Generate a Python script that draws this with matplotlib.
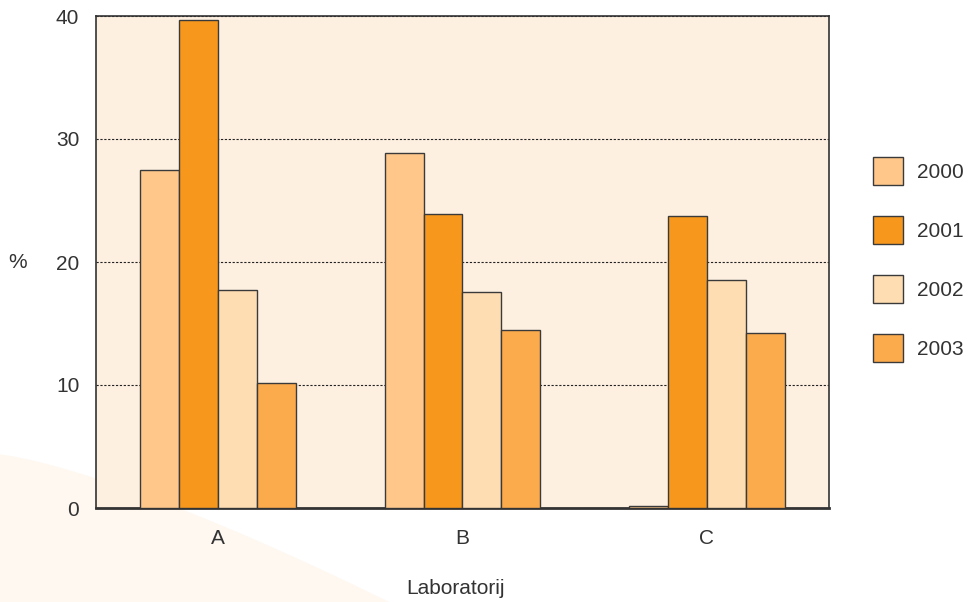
import numpy as np
import matplotlib.pyplot as plt
from matplotlib.patches import Polygon

labs = ['A', 'B', 'C']
years = ['2000', '2001', '2002', '2003']
v2000 = [27.5, 28.9, 0.2]
v2001 = [39.7, 23.9, 23.7]
v2002 = [17.7, 17.6, 18.5]
v2003 = [10.2, 14.5, 14.2]
colors = ['#FFC88A', '#F7981D', '#FFDDB3', '#FBAA4C']

plt.rcParams['font.family'] = ['Liberation Sans', 'DejaVu Sans']

fig = plt.figure(figsize=(9.73, 6.02), dpi=100)

# faint decorative swoosh in the lower left corner (behind the axes)
t = np.linspace(0, 1, 60)
cx = 0.40 * t
cy = 0.245 - 0.245 * t**1.3
pts = np.column_stack([np.r_[0, cx, 0], np.r_[0.245, cy, 0]])
fig.patches.append(Polygon(pts, closed=True, transform=fig.transFigure,
                           facecolor='#FEF8F1', edgecolor='none', zorder=-5))

ax = fig.add_axes([96 / 973, 1 - 508 / 602, 733 / 973, 492 / 602])
ax.set_zorder(2)
ax.set_facecolor('#FEF0E1')

x = np.arange(len(labs))
w = 0.159
series = [v2000, v2001, v2002, v2003]
for i, (vals, c, yr) in enumerate(zip(series, colors, years)):
    ax.bar(x + (i - 1.5) * w, vals, w, color=c, edgecolor='#3a3a3a',
           linewidth=1.0, label=yr, zorder=3)

ax.set_xlim(-0.5, 2.5)
ax.set_ylim(0, 40)
ax.set_yticks([0, 10, 20, 30, 40])
ax.yaxis.grid(True, linestyle=(0, (2, 1.5)), color='#222222', linewidth=0.8)
ax.set_axisbelow(True)
ax.set_xticks(x)
ax.set_xticklabels(labs)
ax.tick_params(length=0, labelsize=15, colors='#333333')
ax.tick_params(axis='x', pad=15)
ax.tick_params(axis='y', pad=12)
for s in ax.spines.values():
    s.set_color('#333333')
    s.set_linewidth(1.2)
ax.spines['bottom'].set_linewidth(2)

fig.text(18 / 973, 1 - 262 / 602, '%', fontsize=15, color='#333333',
         ha='center', va='center')
fig.text(455 / 973, 1 - 588 / 602, 'Laboratorij', fontsize=15, color='#333333',
         ha='center', va='center')

ax.legend(loc='center left', bbox_to_anchor=(1.034, 0.505), frameon=False,
          handlelength=1.44, handleheight=1.75, labelspacing=1.45,
          handletextpad=0.67, borderpad=0.4, fontsize=15, labelcolor='#333333')

fig.savefig('out.png', dpi=100)
